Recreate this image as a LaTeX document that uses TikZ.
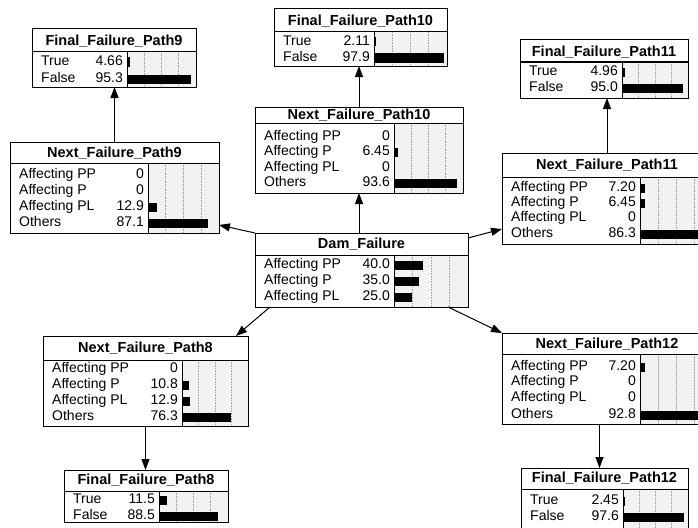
\documentclass[tikz,border=0pt]{standalone}
\usepackage{fontspec}
\setmainfont{Liberation Sans}
\usetikzlibrary{arrows.meta,calc}
\tikzset{
  boxst/.style={draw, line width=1pt, inner sep=0pt, outer sep=0pt},
  titlest/.style={font=\fontsize{14.5}{14.5}\selectfont\bfseries, inner sep=0pt},
  labst/.style={font=\fontsize{14}{14}\selectfont, inner sep=0pt, anchor=west, text height=1.5ex, text depth=.25ex},
  valst/.style={font=\fontsize{14}{14}\selectfont, inner sep=0pt, anchor=east, text height=1.5ex, text depth=.25ex},
  arr/.style={line width=1pt, -{Triangle[length=11pt,width=8pt]}},
  gridst/.style={densely dotted, gray!70, line width=0.6pt},
  barst/.style={fill=black},
  areast/.style={fill=gray!10},
  sepline/.style={line width=1pt},
}
\newcommand\bnnode[9]{%
  \def\bN{#1}\def\bL{#2}\def\bR{#4}\def\bD{#7}%
  \fill[areast] (#7,#6) rectangle (#4,#5);
  \foreach \g in {0.25,0.5,0.75} {\draw[gridst] ({#7+\g*(#4-#7)},#6) -- ({#7+\g*(#4-#7)},#5);}
  \draw[sepline] (#2,#6) -- (#4,#6) (#7,#6) -- (#7,#5);
  \node[boxst, anchor=north west, minimum width={(#4-#2)*1pt}, minimum height={(#5-#3)*1pt}] (#1) at (#2,#3) {};
  \node[titlest] (#1-title) at ({(#2+#4)/2},#8) {#9};
}
\newcommand\bnrow[5]{%
  \node[labst] (\bN-#1-l) at (\bL+9,#2) {#3};
  \node[valst] (\bN-#1-v) at (\bD-4,#2) {#4};
  \fill[barst] (\bD,#2-4.5) rectangle ({\bD+#5/100*(\bR-\bD-2)},#2+4.5);
}
\begin{document}
\begin{tikzpicture}[x=1pt,y=-1pt]
\useasboundingbox (0,0) rectangle (698,527);
\clip (0,0) rectangle (698,527);
\fill[white] (0,0) rectangle (698,527);

% Final nodes
\bnnode{f9}{32}{29}{196}{87}{52}{127}{41}{Final\_Failure\_Path9}
\bnrow{t}{62}{True}{4.66}{4.66}
\bnrow{f}{79}{False}{95.3}{95.3}

\bnnode{f10}{274}{9}{447}{66}{32}{374}{21}{Final\_Failure\_Path10}
\bnrow{t}{42}{True}{2.11}{2.11}
\bnrow{f}{58}{False}{97.9}{97.9}

\bnnode{f11}{520}{40}{688}{98}{62}{622}{52}{Final\_Failure\_Path11}
\bnrow{t}{72}{True}{4.96}{4.96}
\bnrow{f}{88}{False}{95.0}{95.0}

% Next nodes
\bnnode{n9}{10}{142}{219}{233}{163}{148}{153}{Next\_Failure\_Path9}
\bnrow{pp}{175}{Affecting PP}{0}{0}
\bnrow{p}{191}{Affecting P}{0}{0}
\bnrow{pl}{207}{Affecting PL}{12.9}{12.9}
\bnrow{o}{223}{Others}{87.1}{87.1}

\bnnode{n10}{255}{107}{463}{193}{123}{394}{115}{Next\_Failure\_Path10}
\bnrow{pp}{137}{Affecting PP}{0}{0}
\bnrow{p}{152}{Affecting P}{6.45}{6.45}
\bnrow{pl}{168}{Affecting PL}{0}{0}
\bnrow{o}{183}{Others}{93.6}{93.6}

\bnnode{n11}{502}{153}{712}{244}{177}{640}{165}{Next\_Failure\_Path11}
\bnrow{pp}{188}{Affecting PP}{7.20}{7.20}
\bnrow{p}{203}{Affecting P}{6.45}{6.45}
\bnrow{pl}{218}{Affecting PL}{0}{0}
\bnrow{o}{234}{Others}{86.3}{86.3}

% Dam
\bnnode{dam}{255}{233}{468}{307}{255}{394}{244}{Dam\_Failure}
\bnrow{pp}{265}{Affecting PP}{40.0}{40.0}
\bnrow{p}{281}{Affecting P}{35.0}{35.0}
\bnrow{pl}{297}{Affecting PL}{25.0}{25.0}

\bnnode{n8}{43}{336}{248}{426}{360}{182}{348}{Next\_Failure\_Path8}
\bnrow{pp}{369}{Affecting PP}{0}{0}
\bnrow{p}{385}{Affecting P}{10.8}{10.8}
\bnrow{pl}{401}{Affecting PL}{12.9}{12.9}
\bnrow{o}{417}{Others}{76.3}{76.3}

\bnnode{n12}{502}{333}{712}{424}{354}{640}{344}{Next\_Failure\_Path12}
\bnrow{pp}{367}{Affecting PP}{7.20}{7.20}
\bnrow{p}{382}{Affecting P}{0}{0}
\bnrow{pl}{398}{Affecting PL}{0}{0}
\bnrow{o}{415}{Others}{92.8}{92.8}

\bnnode{f8}{64}{470}{228}{522}{491}{159}{480}{Final\_Failure\_Path8}
\bnrow{t}{500}{True}{11.5}{11.5}
\bnrow{f}{516}{False}{88.5}{88.5}

\bnnode{f12}{521}{468}{688}{530}{489}{623}{478}{Final\_Failure\_Path12}
\bnrow{t}{501}{True}{2.45}{2.45}
\bnrow{f}{517}{False}{97.6}{97.6}

% connectors
\draw[arr] (n10.south |- dam.north) -- (n10.south);
\draw[arr] (n10.north) -- (n10.north |- f10.south);
\draw[arr] (n9.north) -- (n9.north |- f9.south);
\draw[arr] (n11.north) -- (n11.north |- f11.south);
\draw[arr] (n8.south) -- (n8.south |- f8.north);
\coordinate (a12) at ($(f12.north)+(-5,0)$);
\draw[arr] (a12 |- n12.south) -- (a12);
\draw[arr] (dam.north west) -- ($(n9.south east)+(0,-8)$);
\draw[arr] ($(dam.north east)+(0,5)$) -- ($(n11.south west)+(0,-15)$);
\draw[arr] ($(dam.south west)+(15,0)$) -- ($(n8.north east)+(-12,0)$);
\draw[arr] ($(dam.south east)+(-20,0)$) -- (n12.north west);
\end{tikzpicture}
\end{document}
